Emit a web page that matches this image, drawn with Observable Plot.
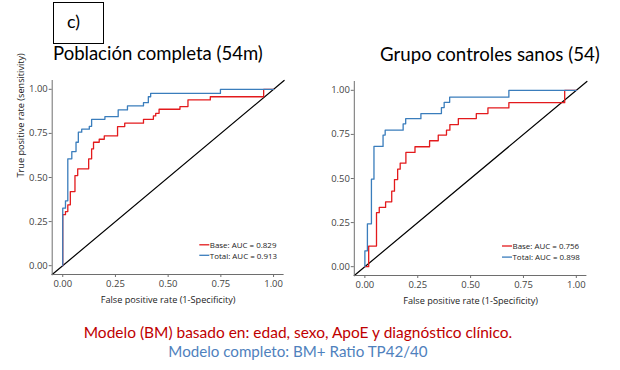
<!DOCTYPE html>
<html><head><meta charset="utf-8">
<script src="https://cdn.jsdelivr.net/npm/d3@7"></script>
<script src="https://cdn.jsdelivr.net/npm/@observablehq/plot@0.6"></script>
<style>
body{margin:0;background:#fff;}
#root{position:relative;width:620px;height:370px;overflow:hidden;background:#fff;}
.abs{position:absolute;line-height:0;}
</style></head><body><div id="root"></div>
<script>
// ---------- data ----------
const panelTag = "c)";
const panelTitles = ["Población completa (54m)", "Grupo controles sanos (54)"];
const seriesNames = ["Base", "Total"];
const aucLeft = [0.829, 0.913];
const aucRight = [0.756, 0.898];
const xLabel = "False positive rate (1-Specificity)";
const yLabel = "True positive rate (sensitivity)";
const tickValues = [0, 0.25, 0.5, 0.75, 1];
const axisDomain = [-0.05, 1.05];
const captionLines = ["Modelo (BM) basado en: edad, sexo, ApoE y diagnóstico clínico.", "Modelo completo: BM+ Ratio TP42/40"];

const leftBaseFpr = [0, 0, 0.013, 0.024, 0.036, 0.058, 0.071, 0.123, 0.137, 0.146, 0.173, 0.197, 0.26, 0.294, 0.383, 0.43, 0.441, 0.457, 0.556, 0.594, 0.70, 0.953, 1];
const leftBaseTpr = [0, 0.289, 0.307, 0.345, 0.42, 0.511, 0.549, 0.606, 0.662, 0.70, 0.717, 0.736, 0.789, 0.808, 0.83, 0.849, 0.864, 0.887, 0.902, 0.94, 0.958, 1.0, 1.0];
const leftTotalFpr = [0, 0, 0.013, 0.024, 0.043, 0.063, 0.074, 0.09, 0.126, 0.137, 0.2, 0.263, 0.307, 0.383, 0.406, 0.417, 0.748, 1];
const leftTotalTpr = [0, 0.326, 0.368, 0.606, 0.647, 0.70, 0.757, 0.774, 0.79, 0.83, 0.845, 0.883, 0.906, 0.924, 0.958, 0.977, 1.0, 1.0];
const rightBaseFpr = [0, 0.018, 0.055, 0.068, 0.098, 0.127, 0.14, 0.155, 0.167, 0.194, 0.237, 0.306, 0.347, 0.386, 0.402, 0.442, 0.527, 0.582, 0.681, 0.945, 1];
const rightBaseTpr = [0, 0.117, 0.306, 0.336, 0.368, 0.428, 0.494, 0.553, 0.587, 0.648, 0.68, 0.714, 0.746, 0.774, 0.806, 0.84, 0.868, 0.9, 0.93, 1.0, 1.0];
const rightTotalFpr = [0, 0, 0.012, 0.031, 0.043, 0.086, 0.096, 0.181, 0.193, 0.265, 0.362, 0.375, 0.401, 0.681, 1];
const rightTotalTpr = [0, 0.09, 0.243, 0.496, 0.682, 0.746, 0.774, 0.81, 0.839, 0.868, 0.902, 0.932, 0.961, 1.0, 1.0];

// ---------- styles ----------
const lineColors = ["#E31A1C", "#3A7DBC"];
const captionColors = ["#C00000", "#4F81BD"];
const FONT = '"Open Sans", sans-serif';
const TFONT = 'Lato, "Open Sans", sans-serif';

const ctx = document.createElement("canvas").getContext("2d");
function fit(text, target, family) { ctx.font = `100px ${family}`; return 100 * target / ctx.measureText(text).width; }
const tickFS = fit("1.00", 18.7, FONT);
const axisFS = fit(xLabel, 135, FONT);
const legendFS = fit("Base: AUC = 0.829", 66.7, FONT);

const root = document.getElementById("root");
function place(el, left, top) {
  const d = document.createElement("div"); d.className = "abs";
  d.style.left = left + "px"; d.style.top = top + "px";
  d.appendChild(el); root.appendChild(d);
}

function rowsOf(fpr, tpr, name) { return fpr.map((f, i) => ({fpr: f, tpr: tpr[i], series: name})); }

function panel({base, total, ml, mr, mt, mb, showY}) {
  const rows = [...rowsOf(base[0], base[1], seriesNames[0]), ...rowsOf(total[0], total[1], seriesNames[1])];
  const marks = [
    Plot.line(axisDomain, {x: d => d, y: d => d, stroke: "#000", strokeWidth: 1.2}),
    Plot.line(rows, {x: "fpr", y: "tpr", stroke: "series", curve: "step-after", strokeWidth: 1.3}),
    Plot.ruleY([axisDomain[0]], {stroke: "#6e6e6e", strokeWidth: 1}),
    Plot.ruleX([axisDomain[0]], {stroke: "#6e6e6e", strokeWidth: 1}),
    Plot.axisX({ticks: tickValues, tickFormat: d3.format(".2f"), tickSize: 3, tickPadding: 3, label: null, stroke: "#6e6e6e", fill: "#444", fontSize: tickFS}),
    Plot.axisY({ticks: tickValues, tickFormat: d3.format(".2f"), tickSize: 3, tickPadding: 1.5, label: null, stroke: "#6e6e6e", fill: "#444", fontSize: tickFS}),
    Plot.text([xLabel], {text: d => d, frameAnchor: "bottom", lineAnchor: "bottom", dy: 28.5, fontSize: axisFS, fill: "#222"})
  ];
  if (showY) marks.push(Plot.text([yLabel], {text: d => d, frameAnchor: "left", lineAnchor: "bottom", rotate: -90, dx: -28.2, fontSize: axisFS, fill: "#222"}));
  return Plot.plot({
    width: 300, height: 235,
    marginLeft: ml, marginRight: mr, marginTop: mt, marginBottom: mb,
    style: {fontFamily: FONT, background: "transparent", overflow: "visible"},
    x: {domain: axisDomain},
    y: {domain: axisDomain},
    color: {domain: seriesNames, range: lineColors},
    marks
  });
}

place(panel({base: [leftBaseFpr, leftBaseTpr], total: [leftTotalFpr, leftTotalTpr], ml: 51.7, mr: 16.4, mt: 5, mb: 36, showY: true}), 0, 75);
place(panel({base: [rightBaseFpr, rightBaseTpr], total: [rightTotalFpr, rightTotalTpr], ml: 43.8, mr: 23.6, mt: 6, mb: 35, showY: false}), 310, 75);

// ---------- overlay: tag, titles, legends, captions ----------
const svg = d3.create("svg").attr("width", 620).attr("height", 370)
  .style("position", "absolute").style("left", "0").style("top", "0").style("pointer-events", "none");

svg.append("rect").attr("x", 53.5).attr("y", 2.5).attr("width", 50).attr("height", 41).attr("fill", "none").attr("stroke", "#000").attr("stroke-width", 1);
svg.append("text").attr("x", 67).attr("y", 27.5).attr("font-family", TFONT).attr("font-size", fit(panelTag, 13, TFONT)).text(panelTag);

svg.append("text").attr("x", 53).attr("y", 60).attr("font-family", TFONT).attr("font-size", fit(panelTitles[0], 210, TFONT)).text(panelTitles[0]);
svg.append("text").attr("x", 380).attr("y", 61).attr("font-family", TFONT).attr("font-size", fit(panelTitles[1], 220, TFONT)).text(panelTitles[1]);

function legend(x0, rows, aucs) {
  seriesNames.forEach((name, i) => {
    const yb = rows[i];
    svg.append("line").attr("x1", x0).attr("x2", x0 + 10).attr("y1", yb - 3.2).attr("y2", yb - 3.2).attr("stroke", lineColors[i]).attr("stroke-width", 1.3);
    svg.append("text").attr("x", x0 + 10.5).attr("y", yb).attr("font-family", FONT).attr("font-size", legendFS).attr("fill", "#222")
      .text(`${name}: AUC = ${d3.format(".3f")(aucs[i])}`);
  });
}
legend(199.3, [248, 258.5], aucLeft);
legend(502, [249.2, 260.3], aucRight);

const capFS = fit(captionLines[0], 430, TFONT);
svg.append("text").attr("x", 298).attr("y", 338).attr("text-anchor", "middle").attr("font-family", TFONT).attr("font-size", capFS).attr("fill", captionColors[0]).text(captionLines[0]);
svg.append("text").attr("x", 298).attr("y", 357).attr("text-anchor", "middle").attr("font-family", TFONT).attr("font-size", fit(captionLines[1], 260, TFONT)).attr("fill", captionColors[1]).text(captionLines[1]);

root.appendChild(svg.node());
</script>
</body></html>
